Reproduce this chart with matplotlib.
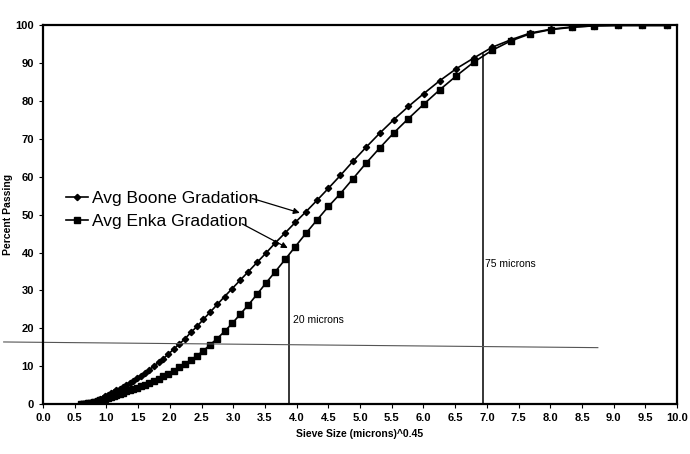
import numpy as np
import matplotlib.pyplot as plt

plt.rcParams['font.family'] = ['Liberation Sans', 'DejaVu Sans']

# sieve size (microns)^0.45 for each measured bin
sieve_x = [0.600, 0.625, 0.651, 0.679, 0.707, 0.737, 0.768, 0.800, 0.834, 0.869,
           0.905, 0.943, 0.983, 1.024, 1.067, 1.112, 1.159, 1.207, 1.258, 1.311,
           1.366, 1.423, 1.483, 1.545, 1.610, 1.678, 1.748, 1.822, 1.898, 1.978,
           2.061, 2.147, 2.237, 2.331, 2.429, 2.531, 2.638, 2.748, 2.864, 2.984,
           3.109, 3.240, 3.376, 3.518, 3.665, 3.819, 3.980, 4.147, 4.321, 4.502,
           4.691, 4.888, 5.094, 5.308, 5.531, 5.763, 6.005, 6.257, 6.520, 6.794,
           7.079, 7.376, 7.686, 8.009, 8.345, 8.696, 9.061, 9.441, 9.838]

# percent passing
boone = [0.0, 0.05, 0.1, 0.15, 0.2, 0.3, 0.45, 0.6, 0.8, 1.0,
         1.3, 1.6, 2.0, 2.4, 2.8, 3.2, 3.6, 4.0, 4.5, 5.0,
         5.6, 6.2, 6.8, 7.5, 8.3, 9.1, 10.0, 11.0, 12.0, 13.2,
         14.5, 15.8, 17.2, 18.9, 20.5, 22.4, 24.3, 26.3, 28.4, 30.5,
         32.7, 35.0, 37.4, 39.9, 42.6, 45.2, 48.0, 50.8, 53.8, 57.0,
         60.4, 64.1, 67.8, 71.5, 75.1, 78.6, 82.0, 85.4, 88.6, 91.4,
         94.2, 96.2, 98.0, 99.0, 99.6, 99.9, 100, 100, 100]

enka = [0.0, 0.0, 0.05, 0.1, 0.15, 0.2, 0.3, 0.45, 0.6, 0.75,
        0.95, 1.15, 1.4, 1.7, 1.95, 2.2, 2.5, 2.75, 3.05, 3.35,
        3.65, 3.95, 4.3, 4.7, 5.1, 5.6, 6.1, 6.7, 7.3, 8.0,
        8.8, 9.7, 10.6, 11.6, 12.8, 14.1, 15.7, 17.3, 19.2, 21.3,
        23.7, 26.2, 29.0, 32.0, 35.0, 38.2, 41.6, 45.1, 48.6, 52.2,
        55.6, 59.5, 63.6, 67.6, 71.6, 75.4, 79.2, 83.0, 86.7, 90.3,
        93.4, 95.9, 97.8, 98.9, 99.5, 99.9, 100, 100, 100]

fig = plt.figure(figsize=(6.9, 4.54), dpi=100)
ax = fig.add_axes([0.0623, 0.110, 0.919, 0.834])

ax.plot(sieve_x, boone, color='black', lw=1.2, marker='D', ms=3.2,
        label='Avg Boone Gradation')
ax.plot(sieve_x, enka, color='black', lw=1.2, marker='s', ms=5,
        label='Avg Enka Gradation')

# reference lines
ax.plot([3.88, 3.88], [0, 39], color='black', lw=1.1)
ax.plot([6.94, 6.94], [0, 92.5], color='black', lw=1.1)
ax.plot([-0.62, 8.75], [16.4, 14.9], color='#555555', lw=0.8, clip_on=False)
ax.text(3.94, 22.2, '20 microns', fontsize=7.5, va='center')
ax.text(6.97, 37.0, '75 microns', fontsize=7.5, va='center')

ax.legend(loc='center left', bbox_to_anchor=(0.036, 0.513), frameon=False,
          fontsize=12.5, handlelength=1.3, handletextpad=0.2, labelspacing=0.45,
          borderpad=0, borderaxespad=0)

ax.annotate('', xy=(4.05, 50.5), xytext=(3.3, 54.3),
            arrowprops=dict(arrowstyle='-|>', color='black', lw=0.9,
                            mutation_scale=9, shrinkA=0, shrinkB=0))
ax.annotate('', xy=(3.86, 41.2), xytext=(3.14, 47.6),
            arrowprops=dict(arrowstyle='-|>', color='black', lw=0.9,
                            mutation_scale=9, shrinkA=0, shrinkB=0))

ax.set_xlim(0, 10)
ax.set_ylim(0, 100)
ax.set_xticks(np.arange(0, 10.01, 0.5))
ax.set_xticklabels([f'{v:.1f}' for v in np.arange(0, 10.01, 0.5)])
ax.set_yticks(np.arange(0, 101, 10))
ax.tick_params(labelsize=8, length=3, width=0.8, direction='out')
for lab in ax.get_xticklabels() + ax.get_yticklabels():
    lab.set_fontweight('bold')

for s in ax.spines.values():
    s.set_linewidth(1.6)

ax.set_xlabel('Sieve Size (microns)^0.45', fontsize=7.5, fontweight='bold')
ax.set_ylabel('Percent Passing', fontsize=7.5, fontweight='bold', labelpad=2)

fig.savefig('out.png', dpi=100)
